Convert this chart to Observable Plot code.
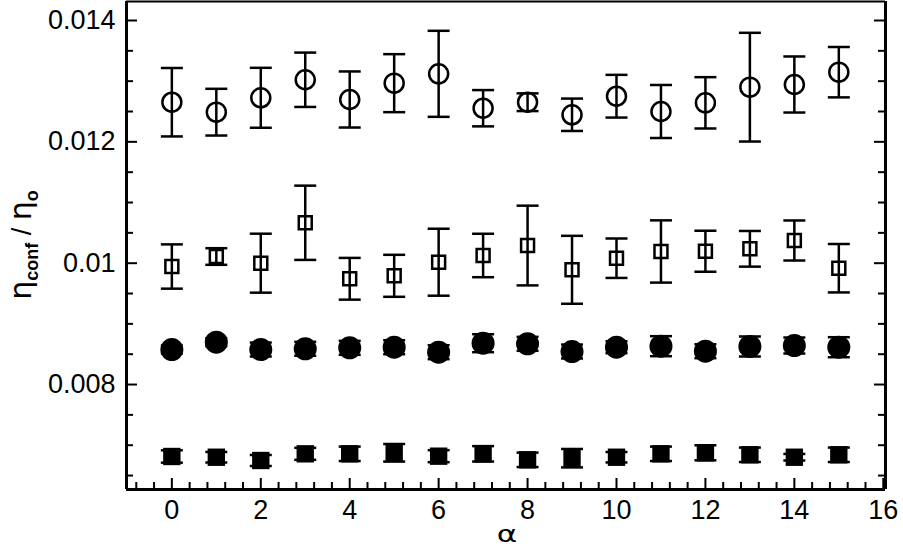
<!DOCTYPE html>
<html><head><meta charset="utf-8">
<script src="https://cdn.jsdelivr.net/npm/d3@7"></script>
<script src="https://cdn.jsdelivr.net/npm/@observablehq/plot@0.6"></script>
<style>body{margin:0;background:#fff;overflow:hidden} #chart{width:903px;height:555px}</style>
</head><body><div id="chart"></div>
<script>
// ---- data ----
const alpha = [0,1,2,3,4,5,6,7,8,9,10,11,12,13,14,15];

const openCircle    = [0.012653,0.012489,0.012726,0.013023,0.012698,0.012967,0.013121,0.012554,0.012653,0.012446,0.012752,0.012500,0.012643,0.012901,0.012945,0.013148];
const openCircleErr = [0.000564,0.000385,0.000494,0.000448,0.000462,0.000478,0.000709,0.000299,0.000146,0.000267,0.000352,0.000437,0.000423,0.000896,0.000462,0.000415];

const openSquare    = [0.009945,0.010110,0.010000,0.010666,0.009743,0.009792,0.010016,0.010127,0.010291,0.009891,0.010082,0.010193,0.010197,0.010237,0.010374,0.009917];
const openSquareErr = [0.000365,0.000137,0.000486,0.000612,0.000344,0.000346,0.000552,0.000358,0.000657,0.000560,0.000325,0.000513,0.000338,0.000294,0.000330,0.000399];

const filledCircle    = [0.008577,0.008698,0.008577,0.008589,0.008605,0.008615,0.008533,0.008681,0.008671,0.008544,0.008615,0.008632,0.008549,0.008627,0.008643,0.008615];
const filledCircleErr = [0.000066,0.000066,0.000115,0.000115,0.000115,0.000115,0.000115,0.000148,0.000115,0.000115,0.000099,0.000165,0.000115,0.000165,0.000132,0.000165];

const filledSquare    = [0.006814,0.006802,0.006748,0.006858,0.006858,0.006875,0.006819,0.006858,0.006759,0.006786,0.006802,0.006858,0.006875,0.006842,0.006802,0.006842];
const filledSquareErr = [0.000102,0.000087,0.000091,0.000099,0.000119,0.000145,0.000099,0.000127,0.000119,0.000152,0.000086,0.000119,0.000124,0.000119,0.000054,0.000119];

const xTicks = [0,2,4,6,8,10,12,14,16];
const xTickLabels = ["0","2","4","6","8","10","12","14","16"];
const yTicks = [0.008,0.010,0.012,0.014];
const yTickLabels = ["0.008","0.01","0.012","0.014"];
const xDomain = [-1.02, 16.05];
const yDomain = [0.00627, 0.014313];

// ---- layout ----
const W = 903, H = 555, mL = 126, mR = 18, mT = 1, mB = 66;
const plotW = W - mL - mR, plotH = H - mT - mB;
const majorLen = 11, minorLen = 7;

const xMinor = d3.range(-0.8, 16.01, 0.4).map(v => +v.toFixed(2)).filter(v => !xTicks.some(t => Math.abs(t - v) < 1e-6) && v > xDomain[0]);
const yMinor = d3.range(0.0065, 0.01401, 0.0005).map(v => +v.toFixed(5)).filter(v => !yTicks.some(t => Math.abs(t - v) < 1e-9));

const cap = {draw(ctx) { ctx.moveTo(-11, 0); ctx.lineTo(11, 0); }};

function rows(vals, errs) { return alpha.map((a, i) => ({a, v: vals[i], e: errs[i]})); }
function series(data, symbol, r, filled) {
  return [
    Plot.ruleX(data, {x: "a", y1: d => d.v - d.e, y2: d => d.v + d.e, stroke: "black", strokeWidth: 2.5}),
    Plot.dot(data, {x: "a", y: d => d.v - d.e, symbol: cap, stroke: "black", strokeWidth: 2.5, fill: "none"}),
    Plot.dot(data, {x: "a", y: d => d.v + d.e, symbol: cap, stroke: "black", strokeWidth: 2.5, fill: "none"}),
    filled
      ? Plot.dot(data, {x: "a", y: "v", symbol, r, fill: "black", stroke: "none"})
      : Plot.dot(data, {x: "a", y: "v", symbol, r, fill: "none", stroke: "black", strokeWidth: 2.5})
  ];
}

const tickStyle = {stroke: "black", strokeWidth: 2};
const FONT = "'Liberation Sans', Arial, sans-serif";

const chart = Plot.plot({
  width: W, height: H,
  marginLeft: mL, marginRight: mR, marginTop: mT, marginBottom: mB,
  x: {domain: xDomain, axis: null},
  y: {domain: yDomain, axis: null},
  style: {fontFamily: FONT, fontSize: "27px", background: "white", color: "black", overflow: "visible"},
  marks: [
    // minor & major ticks (inward)
    Plot.tickY(yMinor, {y: d => d, insetRight: plotW - minorLen, ...tickStyle}),
    Plot.tickY(yTicks, {y: d => d, insetRight: plotW - majorLen, ...tickStyle}),
    Plot.tickY(yMinor, {y: d => d, insetLeft: plotW - minorLen, ...tickStyle}),
    Plot.tickY(yTicks, {y: d => d, insetLeft: plotW - majorLen, ...tickStyle}),
    Plot.tickX(xMinor, {x: d => d, insetTop: plotH - minorLen, ...tickStyle}),
    Plot.tickX(xTicks, {x: d => d, insetTop: plotH - majorLen, ...tickStyle}),
    // frame
    Plot.ruleX([xDomain[0], xDomain[1]], {x: d => d, stroke: "black", strokeWidth: 3}),
    Plot.ruleY([yDomain[0]], {y: d => d, stroke: "black", strokeWidth: 3}),
    Plot.ruleY([yDomain[1]], {y: d => d, stroke: "black", strokeWidth: 2}),
    // tick labels
    Plot.text(yTicks, {y: d => d, frameAnchor: "left", textAnchor: "end", dx: -11, fontSize: 27,
      text: d => yTickLabels[yTicks.indexOf(d)]}),
    Plot.text(xTicks, {x: d => d, frameAnchor: "bottom", lineAnchor: "top", dy: 10, fontSize: 27,
      text: d => xTickLabels[xTicks.indexOf(d)]}),
    // data
    ...series(rows(openCircle, openCircleErr), "circle", 9.5, false),
    ...series(rows(openSquare, openSquareErr), "square", 7.3, false),
    ...series(rows(filledCircle, filledCircleErr), "circle", 11.5, true),
    ...series(rows(filledSquare, filledSquareErr), "square", 9.8, true)
  ]
});
document.getElementById("chart").appendChild(chart);

const svg = d3.select(chart);
const yl = svg.append("text")
  .attr("transform", "translate(31,245) rotate(-90)")
  .attr("text-anchor", "middle")
  .style("font-family", "'DejaVu Sans', sans-serif")
  .attr("fill", "black");
yl.append("tspan").style("font-size", "30px").text("η");
yl.append("tspan").style("font-size", "18px").style("font-weight", "bold").attr("dy", 7)
  .style("font-family", FONT).text("conf");
yl.append("tspan").style("font-size", "27px").attr("dy", -7)
  .style("font-family", FONT).text(" / ");
yl.append("tspan").style("font-size", "30px").text("η");
yl.append("tspan").style("font-size", "18px").style("font-weight", "bold").attr("dy", 7)
  .style("font-family", FONT).text("o");

svg.append("text")
  .attr("transform", "translate(507,542) scale(1.35,1)")
  .attr("text-anchor", "middle")
  .style("font-family", "'DejaVu Sans', sans-serif")
  .style("font-size", "23px")
  .attr("fill", "black")
  .text("α");
</script>
</body></html>
